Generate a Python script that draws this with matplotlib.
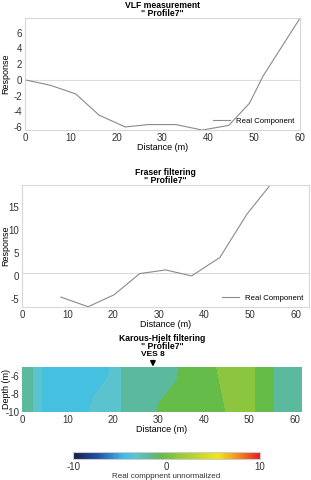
import numpy as np
import matplotlib
matplotlib.use("Agg")
import matplotlib.pyplot as plt
from matplotlib.colors import LinearSegmentedColormap

plt.rcParams['font.family'] = ['Liberation Sans', 'DejaVu Sans']
plt.rcParams['font.size'] = 6.5
plt.rcParams['axes.unicode_minus'] = False

# VLF measurement, real component
vlf_x = [0, 5.6, 11.1, 16.2, 21.9, 27.0, 33.0, 38.7, 44.5, 49.0, 52.0, 60.0]
vlf_y = [0.0, -0.7, -1.8, -4.5, -6.0, -5.7, -5.7, -6.4, -5.8, -3.0, 0.5, 7.8]

# Fraser filtered
fr_x = [8.5, 14.5, 20.2, 25.8, 31.5, 37.2, 43.4, 49.4, 54.5]
fr_y = [-4.6, -6.7, -4.1, 0.5, 1.3, 0.0, 4.0, 13.5, 19.8]

# Karous-Hjelt section (values in colour scale units)
kh_x = [0, 1.8, 2.6, 3.8, 4.6, 14, 15.5, 19, 19.8, 21.5, 22.3, 29, 30, 34, 35,
        42.5, 43.5, 44.5, 45.5, 50.5, 51.5, 55, 56, 61.6]
kh_depth = [-4.9, -7.45, -10]
kh_top = [-1.9, -1.9, -3.3, -3.3, -4.2, -4.2, -4.2, -4.2, -3.3, -3.3, -1.9, -1.9,
          -1.9, -1.9, -0.5, -0.5, 1.0, 1.0, 1.0, 1.0, -0.5, -0.5, -1.9, -1.9]
kh_mid = [-1.9, -1.9, -3.3, -3.3, -4.2, -4.2, -4.2, -3.3, -3.3, -3.3, -1.9, -1.9,
          -1.9, -0.5, -0.5, -0.5, -0.5, 1.0, 1.0, 1.0, -0.5, -0.5, -1.9, -1.9]
kh_bot = [-1.9, -1.9, -3.3, -3.3, -4.2, -4.2, -3.3, -3.3, -3.3, -3.3, -1.9, -1.9,
          -0.5, -0.5, -0.5, -0.5, -0.5, -0.5, 1.0, 1.0, -0.5, -0.5, -1.9, -1.9]
kh_levels = [-4.6, -3.8, -2.8, -1.0, 0.0, 2.0]

cmap = LinearSegmentedColormap.from_list('kh', [
    (0.0, '#1b1a4a'), (0.125, '#1f4fa2'), (0.275, '#3fbfe8'), (0.335, '#5cc3cc'),
    (0.405, '#5bba9c'), (0.475, '#66bc47'), (0.55, '#8dc63f'), (0.775, '#f4e51c'),
    (0.875, '#f7941d'), (1.0, '#e31e24')])

line_c = '#8a8a8a'
ref_c = '#dcdcdc'
spine_c = '#d8d8d8'
txt_c = '#333333'

fig = plt.figure(figsize=(3.11, 4.80), dpi=100)


def style(ax):
    for s in ax.spines.values():
        s.set_color(spine_c)
        s.set_linewidth(0.8)
    ax.tick_params(length=0, pad=2, colors=txt_c, labelsize=7)


# panel 1
ax1 = fig.add_axes([0.080, 0.729, 0.884, 0.234])
ax1.axhline(0, color=ref_c, lw=0.8)
ax1.plot(vlf_x, vlf_y, color=line_c, lw=0.8, label='Real Component')
ax1.set_xlim(0, 60)
ax1.set_ylim(-6.4, 7.9)
ax1.set_xticks(range(0, 61, 10))
ax1.set_yticks(range(-6, 7, 2))
ax1.set_xlabel('Distance (m)', labelpad=0)
ax1.set_ylabel('Response')
ax1.yaxis.set_label_coords(-0.052, 0.5)
ax1.set_title('VLF measurement\n" Profile7"', fontweight='bold', fontsize=6.2, pad=0.5, linespacing=0.85)
ax1.legend(loc='lower right', frameon=False, handlelength=2.2, borderaxespad=0.3, fontsize=5.6)
style(ax1)

# panel 2
ax2 = fig.add_axes([0.071, 0.360, 0.923, 0.254])
ax2.axhline(0.7, color=ref_c, lw=0.8)
ax2.plot(fr_x, fr_y, color=line_c, lw=0.8, label='Real Component')
ax2.set_xlim(0, 63)
ax2.set_ylim(-6.8, 19.7)
ax2.set_xticks(range(0, 61, 10))
ax2.set_yticks(range(-5, 16, 5))
ax2.set_xlabel('Distance (m)', labelpad=0)
ax2.set_ylabel('Response')
ax2.yaxis.set_label_coords(-0.042, 0.5)
ax2.set_title('Fraser filtering\n" Profile7"', fontweight='bold', fontsize=6.2, pad=1, linespacing=0.85)
ax2.legend(loc='lower right', frameon=False, handlelength=2.2, borderaxespad=0.3, fontsize=5.6)
style(ax2)

# panel 3
ax3 = fig.add_axes([0.071, 0.142, 0.900, 0.094])
X, Y = np.meshgrid(kh_x, kh_depth)
Z = np.array([kh_top, kh_mid, kh_bot])
ax3.contourf(X, Y, Z, levels=kh_levels, cmap=cmap, vmin=-10, vmax=10)
ax3.set_xlim(0, 61.6)
ax3.set_ylim(-10, -4.9)
ax3.set_xticks(range(0, 61, 10))
ax3.set_yticks([-6, -8, -10])
ax3.set_xlabel('Distance (m)', labelpad=0)
ax3.set_ylabel('Depth (m)')
ax3.yaxis.set_label_coords(-0.040, 0.5)
ax3.set_title('Karous-Hjelt filtering\n" Profile7"', fontweight='bold', fontsize=6.2, pad=13, linespacing=0.85)
for s in ax3.spines.values():
    s.set_visible(False)
ax3.tick_params(length=0, pad=2, colors=txt_c, labelsize=7)
ax3.annotate('VES 8', xy=(28.8, -4.9), xytext=(0, 6), textcoords='offset points',
             ha='center', va='bottom', fontsize=6, fontweight='bold', annotation_clip=False,
             arrowprops=dict(arrowstyle='-|>', color='black', lw=1.3, mutation_scale=7,
                             shrinkA=0, shrinkB=0))

# colorbar
cax = fig.add_axes([0.235, 0.044, 0.601, 0.015])
sm = plt.cm.ScalarMappable(cmap=cmap, norm=plt.Normalize(-10, 10))
cb = fig.colorbar(sm, cax=cax, orientation='horizontal', ticks=[-10, 0, 10])
cb.outline.set_edgecolor('#cccccc')
cb.outline.set_linewidth(0.8)
cax.tick_params(length=0, pad=2, labelsize=7, colors=txt_c)
cb.set_label('Real comppnent unnormalized', fontsize=5.8, labelpad=1, color=txt_c)

fig.savefig('out.png', dpi=100)
